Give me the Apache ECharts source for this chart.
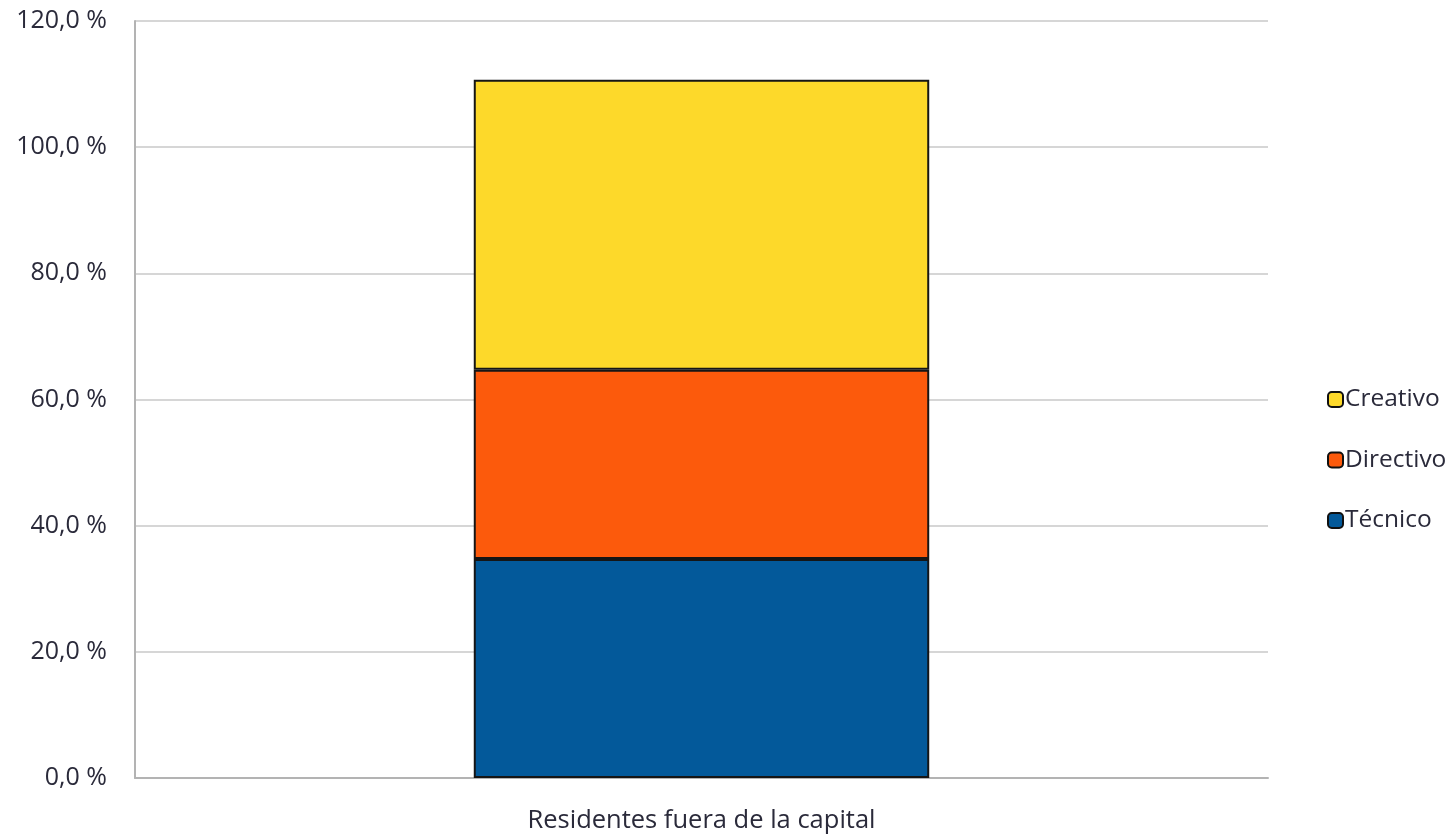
<!DOCTYPE html>
<html><head><meta charset="utf-8">
<script src="https://cdn.jsdelivr.net/npm/echarts@6/dist/echarts.min.js"></script>
<style>html,body{margin:0;padding:0;background:#fff}#c{width:1456px;height:835px}</style>
</head><body><div id="c"></div>
<script>
const categories = ['Residentes fuera de la capital'];
const tecnico = [34.7];
const directivo = [30.0];
const creativo = [46.0];
const seriesNames = ['Técnico', 'Directivo', 'Creativo'];
const colors = ['#03599a', '#fc5a0c', '#fdd92a'];

const font = '"Open Sans", "DejaVu Sans", sans-serif';
const chart = echarts.init(document.getElementById('c'));
const mk = (name, data, color) => ({
  name, type: 'bar', stack: 'total', data, barWidth: '40.2%',
  itemStyle: { color, borderColor: '#151515', borderWidth: 2 }
});
chart.setOption({
  animation: false,
  grid: { left: 135, right: 188, top: 21, bottom: 57 },
  legend: {
    orient: 'vertical', left: 1322, top: 382,
    data: ['Creativo', 'Directivo', 'Técnico'],
    itemWidth: 15, itemHeight: 15, itemGap: 35.5, icon: 'roundRect',
    itemStyle: { borderColor: '#111', borderWidth: 2 },
    textStyle: { fontFamily: font, fontSize: 24.5, color: '#2a2a3a', padding: [0,0,0,-3] }
  },
  xAxis: {
    type: 'category', data: categories,
    axisLine: { lineStyle: { color: '#b3b3b3', width: 2 } },
    axisTick: { show: false },
    axisLabel: { fontFamily: font, fontSize: 25.5, color: '#2a2a3a', margin: 30 }
  },
  yAxis: {
    type: 'value', min: 0, max: 120, interval: 20,
    axisLine: { show: true, lineStyle: { color: '#b3b3b3', width: 2 } },
    axisTick: { show: false },
    splitLine: { lineStyle: { color: '#c8c8c8', width: 1.5 } },
    axisLabel: { fontFamily: font, fontSize: 25, color: '#2a2a3a', margin: 28,
      formatter: v => v.toFixed(1).replace('.', ',') + ' %' }
  },
  series: [
    mk(seriesNames[0], tecnico, colors[0]),
    mk(seriesNames[1], directivo, colors[1]),
    mk(seriesNames[2], creativo, colors[2])
  ]
});
</script></body></html>
